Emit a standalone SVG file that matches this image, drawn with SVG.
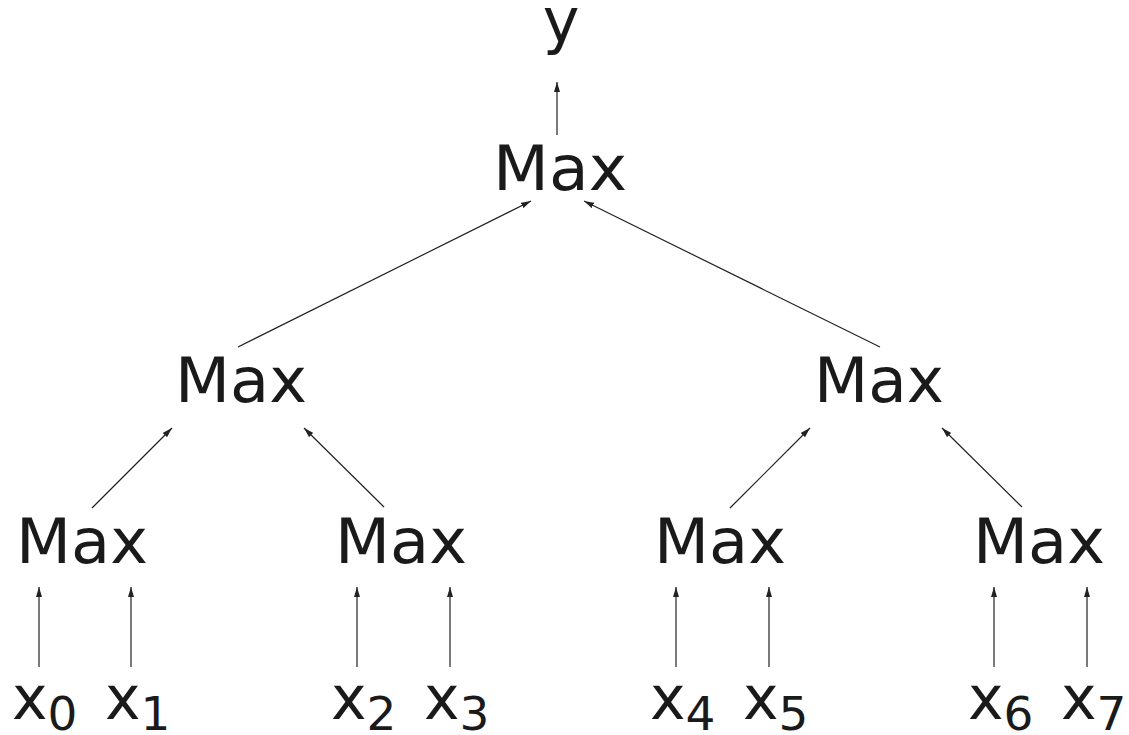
<svg xmlns="http://www.w3.org/2000/svg" width="1129" height="735" viewBox="0 0 1129 735">
<defs>
<marker id="ah" viewBox="0 0 10 6" refX="10" refY="3" markerWidth="10" markerHeight="6" markerUnits="userSpaceOnUse" orient="auto">
<path d="M0,0 L10,3 L0,6 Z" fill="#222"/>
</marker>
</defs>
<style>
.t{font-family:"DejaVu Sans","Liberation Sans",sans-serif;font-size:62px;fill:#1a1a1a;text-anchor:middle}
.v{font-family:"DejaVu Sans","Liberation Sans",sans-serif;font-size:60px;fill:#1a1a1a}
.s{font-size:47px}
.c line{stroke:#222;stroke-width:1.2;marker-end:url(#ah)}
</style>
<rect width="1129" height="735" fill="#fff"/>
<g id="y"><text class="t" x="561" y="42">y</text></g>
<g id="max-root"><text class="t" x="560" y="190" textLength="134" lengthAdjust="spacingAndGlyphs">Max</text></g>
<g id="max-l"><text class="t" x="241" y="402" textLength="132" lengthAdjust="spacingAndGlyphs">Max</text></g>
<g id="max-r"><text class="t" x="879" y="402" textLength="130" lengthAdjust="spacingAndGlyphs">Max</text></g>
<g id="max-ll"><text class="t" x="82" y="563" textLength="132" lengthAdjust="spacingAndGlyphs">Max</text></g>
<g id="max-lr"><text class="t" x="401" y="563" textLength="132" lengthAdjust="spacingAndGlyphs">Max</text></g>
<g id="max-rl"><text class="t" x="720" y="563" textLength="132" lengthAdjust="spacingAndGlyphs">Max</text></g>
<g id="max-rr"><text class="t" x="1039" y="563" textLength="132" lengthAdjust="spacingAndGlyphs">Max</text></g>
<g id="x0"><text class="v" x="12" y="719">x<tspan class="s" y="730">0</tspan></text></g>
<g id="x1"><text class="v" x="105" y="719">x<tspan class="s" y="730">1</tspan></text></g>
<g id="x2"><text class="v" x="331" y="719">x<tspan class="s" y="730">2</tspan></text></g>
<g id="x3"><text class="v" x="424" y="719">x<tspan class="s" y="730">3</tspan></text></g>
<g id="x4"><text class="v" x="650" y="719">x<tspan class="s" y="730">4</tspan></text></g>
<g id="x5"><text class="v" x="743" y="719">x<tspan class="s" y="730">5</tspan></text></g>
<g id="x6"><text class="v" x="968" y="719">x<tspan class="s" y="730">6</tspan></text></g>
<g id="x7"><text class="v" x="1061" y="719">x<tspan class="s" y="730">7</tspan></text></g>
<g id="connectors" class="c">
<line x1="557" y1="135" x2="557" y2="82"/>
<line x1="238" y1="347" x2="531" y2="201"/>
<line x1="880" y1="347" x2="584" y2="201"/>
<line x1="92" y1="508" x2="172" y2="428"/>
<line x1="384" y1="507" x2="304" y2="428"/>
<line x1="730" y1="508" x2="810" y2="428"/>
<line x1="1022" y1="507" x2="942" y2="428"/>
<line x1="39" y1="667" x2="39" y2="587"/>
<line x1="131" y1="667" x2="131" y2="587"/>
<line x1="357" y1="667" x2="357" y2="587"/>
<line x1="450" y1="667" x2="450" y2="587"/>
<line x1="676" y1="667" x2="676" y2="587"/>
<line x1="769" y1="667" x2="769" y2="587"/>
<line x1="994" y1="667" x2="994" y2="587"/>
<line x1="1087" y1="667" x2="1087" y2="587"/>
</g>
</svg>
